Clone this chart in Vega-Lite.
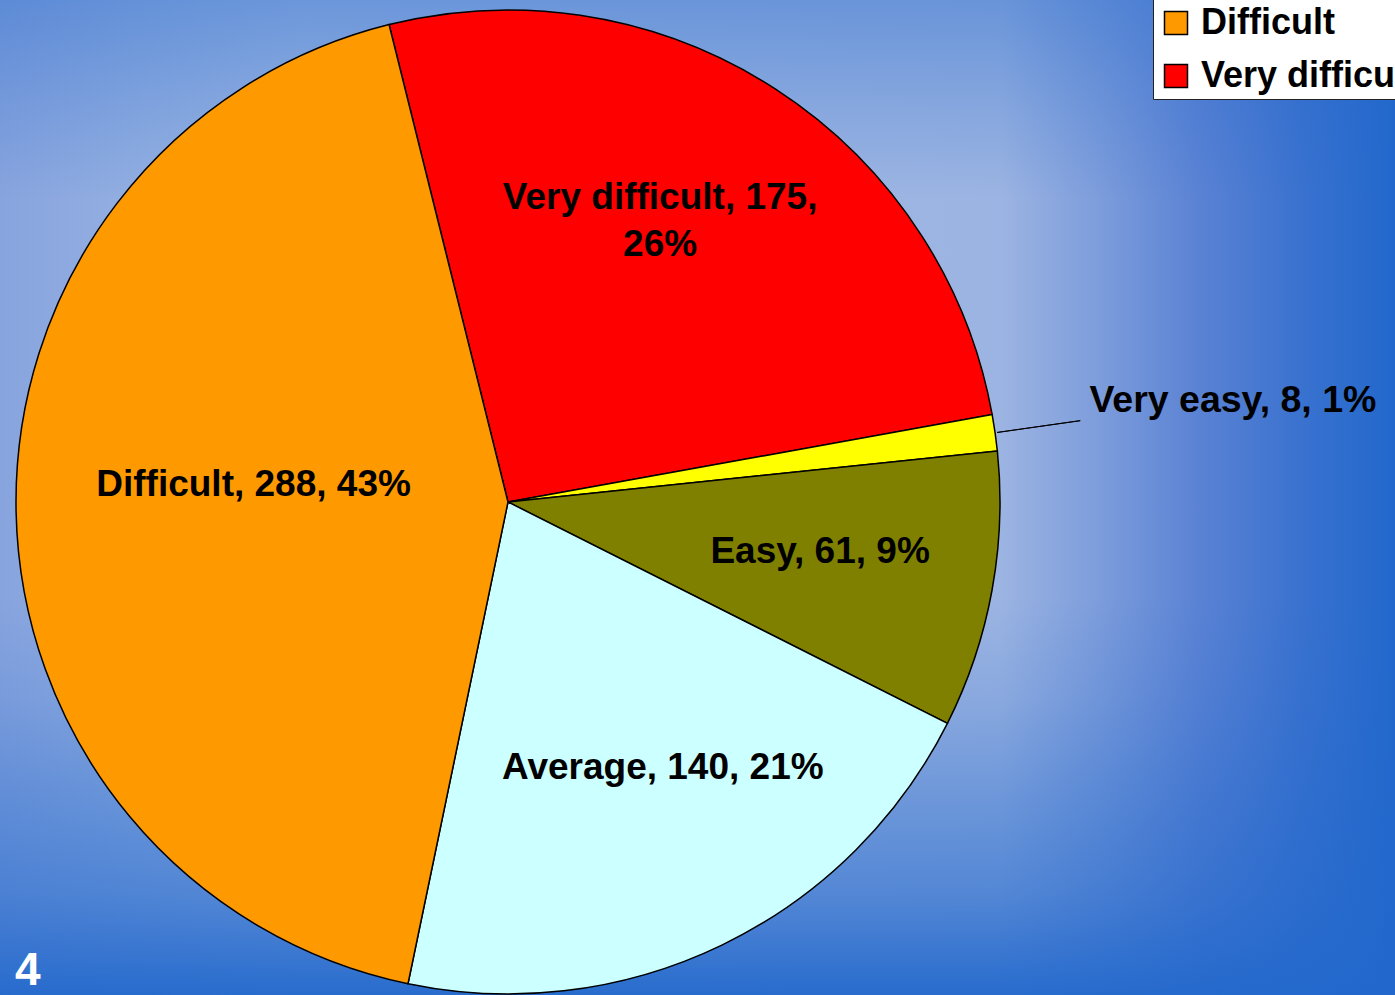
{
  "$schema": "https://vega.github.io/schema/vega-lite/v6.json",
  "width": 1395,
  "height": 995,
  "autosize": {"type": "none"},
  "padding": 0,
  "background": "#2268cc",
  "config": {"view": {"stroke": null}, "font": "Liberation Sans"},
  "title": {"text": "4", "orient": "bottom", "anchor": "start", "frame": "group", "offset": -12, "dx": 15, "color": "white", "fontSize": 46, "fontWeight": "bold", "font": "Liberation Sans", "baseline": "alphabetic", "zindex": 1},
  "data": {"values": [
    {"category": "Very difficult", "count": 175, "rank": 1, "label": "Very difficult, 175,\n26%"},
    {"category": "Very easy", "count": 8, "rank": 2, "label": "Very easy, 8, 1%"},
    {"category": "Easy", "count": 61, "rank": 3, "label": "Easy, 61, 9%"},
    {"category": "Average", "count": 140, "rank": 4, "label": "Average, 140, 21%"},
    {"category": "Difficult", "count": 288, "rank": 5, "label": "Difficult, 288, 43%"}
  ]},
  "transform": [
    {"stack": "count", "groupby": [], "sort": [{"field": "rank", "order": "ascending"}], "as": ["s0", "s1"]}
  ],
  "layer": [
    {
      "data": {"values": [{}]},
      "mark": {"type": "rect", "fill": {"gradient": "linear", "x1": 0, "y1": 0, "x2": 1, "y2": 0, "stops": [
        {"offset": 0, "color": "#88a4de"},
        {"offset": 0.09, "color": "#92aee1"},
        {"offset": 0.215, "color": "#a0b8e4"},
        {"offset": 0.717, "color": "#9cb4e2"},
        {"offset": 0.789, "color": "#7c9cdb"},
        {"offset": 0.86, "color": "#5a82d4"},
        {"offset": 0.932, "color": "#3a72cf"},
        {"offset": 1, "color": "#2268cc"}
      ]}},
      "encoding": {}
    },
    {
      "data": {"values": [{}]},
      "mark": {"type": "rect", "fill": {"gradient": "linear", "x1": 0, "y1": 0, "x2": 0, "y2": 1, "stops": [
        {"offset": 0, "color": "rgba(34,104,204,0.42)"},
        {"offset": 0.1, "color": "rgba(34,104,204,0.2)"},
        {"offset": 0.2, "color": "rgba(34,104,204,0)"},
        {"offset": 0.6, "color": "rgba(34,104,204,0)"},
        {"offset": 0.7, "color": "rgba(34,104,204,0.15)"},
        {"offset": 0.8, "color": "rgba(34,104,204,0.38)"},
        {"offset": 0.9, "color": "rgba(34,104,204,0.6)"},
        {"offset": 1, "color": "rgba(34,104,204,0.95)"}
      ]}},
      "encoding": {}
    },
    {
      "mark": {"type": "arc", "outerRadius": 492, "xOffset": -189.5, "yOffset": 4.5, "stroke": "black", "strokeWidth": 1.5},
      "encoding": {
        "theta": {"field": "s0", "type": "quantitative", "stack": null, "scale": {"domain": [0, 672], "range": [-0.244, 6.039]}},
        "theta2": {"field": "s1"},
        "color": {
          "field": "category", "type": "nominal",
          "scale": {"domain": ["Very easy", "Easy", "Average", "Difficult", "Very difficult"], "range": ["#FFFF00", "#808000", "#CCFFFF", "#FF9900", "#FF0000"]},
          "legend": {"orient": "none", "legendX": 1153, "legendY": -159, "zindex": 1, "title": null, "fillColor": "white", "strokeColor": "#222222", "padding": 5, "symbolType": "square", "symbolSize": 529, "symbolStrokeColor": "black", "symbolStrokeWidth": 1.5, "symbolOpacity": 1, "labelFontSize": 36, "labelFont": "Liberation Sans", "labelFontWeight": "bold", "labelColor": "black", "labelLimit": 0, "rowPadding": 17, "labelOffset": 7}
        }
      }
    },
    {
      "transform": [{"filter": "datum.category === 'Very easy'"}],
      "mark": {"type": "arc", "outerRadius": 578, "innerRadius": 494, "padAngle": 0.3, "xOffset": -189.5, "yOffset": 4.5, "fillOpacity": 0, "stroke": "black", "strokeWidth": 1},
      "encoding": {
        "theta": {"field": "s0", "type": "quantitative", "stack": null, "scale": {"domain": [0, 672], "range": [-0.244, 6.039]}},
        "theta2": {"field": "s1"}
      }
    },
    {
      "transform": [{"filter": "datum.category === 'Very difficult'"}],
      "mark": {"type": "text", "radius": 315, "thetaOffset": 0.7481, "dx": -189.5, "dy": -23.5, "font": "Liberation Sans", "fontSize": 37, "fontWeight": "bold", "fill": "black", "lineBreak": "\n", "lineHeight": 47, "align": "center", "baseline": "middle"},
      "encoding": {
        "theta": {"field": "s0", "type": "quantitative", "stack": null, "scale": {"domain": [0, 672], "range": [-0.244, 6.039]}},
        "text": {"field": "label", "type": "nominal"}
      }
    },
    {
      "transform": [{"filter": "datum.category === 'Easy'"}],
      "mark": {"type": "text", "radius": 316, "thetaOffset": 0.2612, "dx": -189.5, "dy": 4.5, "font": "Liberation Sans", "fontSize": 37, "fontWeight": "bold", "fill": "black", "align": "center", "baseline": "middle"},
      "encoding": {
        "theta": {"field": "s0", "type": "quantitative", "stack": null, "scale": {"domain": [0, 672], "range": [-0.244, 6.039]}},
        "text": {"field": "label", "type": "nominal"}
      }
    },
    {
      "transform": [{"filter": "datum.category === 'Average'"}],
      "mark": {"type": "text", "radius": 308, "thetaOffset": 0.5775, "dx": -189.5, "dy": 4.5, "font": "Liberation Sans", "fontSize": 37, "fontWeight": "bold", "fill": "black", "align": "center", "baseline": "middle"},
      "encoding": {
        "theta": {"field": "s0", "type": "quantitative", "stack": null, "scale": {"domain": [0, 672], "range": [-0.244, 6.039]}},
        "text": {"field": "label", "type": "nominal"}
      }
    },
    {
      "transform": [{"filter": "datum.category === 'Difficult'"}],
      "mark": {"type": "text", "radius": 255, "thetaOffset": 1.4314, "dx": -189.5, "dy": 4.5, "font": "Liberation Sans", "fontSize": 37, "fontWeight": "bold", "fill": "black", "align": "center", "baseline": "middle"},
      "encoding": {
        "theta": {"field": "s0", "type": "quantitative", "stack": null, "scale": {"domain": [0, 672], "range": [-0.244, 6.039]}},
        "text": {"field": "label", "type": "nominal"}
      }
    },
    {
      "transform": [{"filter": "datum.category === 'Very easy'"}],
      "mark": {"type": "text", "radius": 590, "thetaOffset": 0.0074, "dx": -189.5, "dy": 4.5, "font": "Liberation Sans", "fontSize": 37.5, "fontWeight": "bold", "fill": "black", "align": "left", "baseline": "middle"},
      "encoding": {
        "theta": {"field": "s0", "type": "quantitative", "stack": null, "scale": {"domain": [0, 672], "range": [-0.244, 6.039]}},
        "text": {"field": "label", "type": "nominal"}
      }
    }
  ]
}
